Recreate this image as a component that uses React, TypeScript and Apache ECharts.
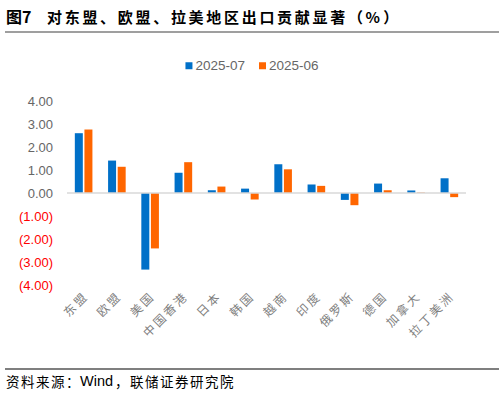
import React, { useEffect, useRef } from "react";
import * as echarts from "echarts";

const categories = ["东盟", "欧盟", "美国", "中国香港", "日本", "韩国", "越南", "印度", "俄罗斯", "德国", "加拿大", "拉丁美洲"];
const seriesNames = ["2025-07", "2025-06"];
const jul2025 = [2.6, 1.41, -3.33, 0.88, 0.12, 0.19, 1.25, 0.37, -0.3, 0.41, 0.11, 0.64];
const jun2025 = [2.76, 1.14, -2.41, 1.34, 0.28, -0.28, 1.03, 0.31, -0.53, 0.12, 0.02, -0.18];
const yTicks = { min: -4, max: 4, interval: 1 };
const titleLead = "图7";
const titleText = "对东盟、欧盟、拉美地区出口贡献显著（%）";
const sourceLead = "资料来源：";
const sourceWind = "Wind";
const sourceTail = "，联储证券研究院";

const FONT = "'Liberation Sans', 'Noto Sans CJK SC', sans-serif";
const CJK = "'Noto Sans CJK SC', sans-serif";

function spaced(str: string, x0: number, step: number, y: number, style: any) {
  return Array.from(str).map((ch, i) => ({
    type: "text",
    x: x0 + i * step,
    y,
    style: { text: ch, textVerticalAlign: "middle", verticalAlign: "middle", ...style },
  }));
}

export default function App() {
  const ref = useRef<HTMLDivElement>(null);
  useEffect(() => {
    if (!ref.current) return;
    const chart = echarts.init(ref.current, null, { renderer: "svg" });
    const titleStyle = { fontSize: 15, fontWeight: "bold", fontFamily: CJK, fill: "#000000" };
    const srcStyle = { fontSize: 13.5, fontFamily: CJK, fill: "#000000" };
    chart.setOption({
      animation: false,
      backgroundColor: "#ffffff",
      legend: {
        top: 54,
        left: "center",
        icon: "rect",
        itemWidth: 7,
        itemHeight: 7,
        itemGap: 14,
        data: seriesNames,
        textStyle: { color: "#666666", fontSize: 13.5, fontFamily: FONT, padding: [0, 0, 0, -2] },
      },
      grid: { left: 67, right: 38, top: 101, bottom: 108, containLabel: false },
      xAxis: {
        type: "category",
        data: categories,
        axisLine: { show: false, onZero: false },
        axisTick: { show: false },
        axisLabel: {
          rotate: 45,
          interval: 0,
          margin: 10,
          color: "#7f7f7f",
          fontSize: 12,
          fontFamily: CJK,
          formatter: (v: string) => Array.from(v).join("\u2009"),
        },
      },
      yAxis: {
        type: "value",
        min: yTicks.min,
        max: yTicks.max,
        interval: yTicks.interval,
        splitLine: { show: false },
        axisLine: { show: false },
        axisTick: { show: false },
        axisLabel: {
          margin: 14,
          fontSize: 13,
          fontFamily: FONT,
          formatter: (v: number) => (v < 0 ? `(${Math.abs(v).toFixed(2)})` : v.toFixed(2)),
          color: (v: any) => (Number(v) < 0 ? "#ff0000" : "#666666"),
        },
      },
      series: [
        {
          name: seriesNames[0],
          type: "bar",
          data: jul2025,
          barWidth: 8,
          barGap: "20%",
          itemStyle: { color: "#0070C8" },
          markLine: {
            silent: true,
            symbol: "none",
            label: { show: false },
            lineStyle: { color: "#d9d9d9", width: 1.5, type: "solid" },
            data: [{ yAxis: 0 }],
          },
        },
        {
          name: seriesNames[1],
          type: "bar",
          data: jun2025,
          barWidth: 8,
          itemStyle: { color: "#FF6600" },
        },
      ],
      graphic: [
        {
          type: "text",
          x: 6,
          y: 16,
          style: { text: titleLead, textVerticalAlign: "middle", verticalAlign: "middle", ...titleStyle, fontSize: 16 },
        },
        ...spaced(titleText, 47, 17.7, 16, titleStyle),
        {
          type: "line",
          shape: { x1: 5, y1: 32, x2: 499, y2: 32 },
          style: { stroke: "#404040", lineWidth: 1.2 },
        },
        {
          type: "line",
          shape: { x1: 5, y1: 369, x2: 499, y2: 369 },
          style: { stroke: "#7f7f7f", lineWidth: 2 },
        },
        ...spaced(sourceLead, 6, 15, 381, srcStyle),
        {
          type: "text",
          x: 80,
          y: 381,
          style: { text: sourceWind, textVerticalAlign: "middle", verticalAlign: "middle", fontSize: 14.5, fontFamily: FONT, fill: "#000000" },
        },
        ...spaced(sourceTail, 115, 15, 381, srcStyle),
      ],
    });
    return () => chart.dispose();
  }, []);
  return (
    <div
      ref={ref}
      style={{ position: "fixed", left: 0, top: 0, width: 504, height: 393 }}
    />
  );
}
